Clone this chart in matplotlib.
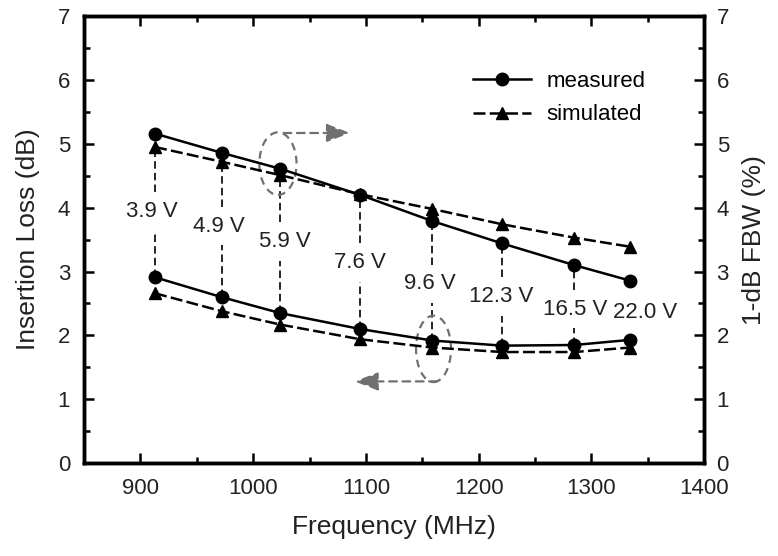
import matplotlib
matplotlib.use("Agg")
import matplotlib.pyplot as plt
from matplotlib.patches import Ellipse
from matplotlib.ticker import MultipleLocator

plt.rcParams["font.family"] = ["Liberation Sans", "DejaVu Sans"]

freq = [913, 972, 1024, 1095, 1159, 1221, 1285, 1334]
il_meas = [2.91, 2.60, 2.35, 2.10, 1.92, 1.84, 1.85, 1.93]
il_sim = [2.66, 2.38, 2.17, 1.94, 1.81, 1.74, 1.74, 1.81]
fbw_meas = [5.16, 4.86, 4.61, 4.20, 3.79, 3.44, 3.10, 2.86]
fbw_sim = [4.95, 4.72, 4.51, 4.21, 3.98, 3.74, 3.53, 3.39]
volt_labels = ["3.9 V", "4.9 V", "5.9 V", "7.6 V", "9.6 V", "12.3 V", "16.5 V", "22.0 V"]
label_x = [910, 970, 1028, 1095, 1157, 1220, 1286, 1348]
label_y = [3.94, 3.71, 3.47, 3.14, 2.81, 2.61, 2.41, 2.36]

fig = plt.figure(figsize=(7.78, 5.56), dpi=100)
ax = fig.add_axes([0.108, 0.167, 0.797, 0.804])
ax2 = ax.twinx()
txt = "#222222"

# vertical guide lines, broken around the voltage labels
gap = 0.3
for i in range(len(freq) - 1):
    top = min(fbw_meas[i], fbw_sim[i])
    for y0, y1 in [(label_y[i] + gap, top), (il_meas[i], label_y[i] - gap)]:
        ax.plot([freq[i], freq[i]], [y0, y1], color="black", lw=1.2,
                ls=(0, (4.5, 2.5)), zorder=1)
for x, y, t in zip(label_x, label_y, volt_labels):
    ax.text(x, y, t, ha="center", va="center", fontsize=16, color=txt, zorder=2)

dash = (0, (4.8, 1.7))
ax.plot(freq, il_meas, "-o", color="black", lw=1.8, ms=9, zorder=4, label="measured")
ax.plot(freq, il_sim, ls=dash, marker="^", color="black", lw=1.8, ms=9, zorder=4,
        label="simulated")
ax2.plot(freq, fbw_meas, "-o", color="black", lw=1.8, ms=9, zorder=4)
ax2.plot(freq, fbw_sim, ls=dash, marker="^", color="black", lw=1.8, ms=9, zorder=4)

# dashed ellipses with arrows pointing to the relevant axis
gray = "#707070"
gls = (0, (3.5, 2.5))
ax.add_patch(Ellipse((1022, 4.69), 33, 0.98, fill=False, ec=gray, lw=1.6,
                     ls=gls, zorder=3))
ax.annotate("", xy=(1086, 5.17), xytext=(1027, 5.17),
            arrowprops=dict(arrowstyle="-|>,head_length=0.9,head_width=0.35",
                            color=gray, lw=1.6, ls=gls, shrinkA=0, shrinkB=0,
                            mutation_scale=16), zorder=3)
ax.add_patch(Ellipse((1160, 1.79), 31, 1.04, fill=False, ec=gray, lw=1.6,
                     ls=gls, zorder=3))
ax.annotate("", xy=(1090, 1.28), xytext=(1163, 1.28),
            arrowprops=dict(arrowstyle="-|>,head_length=0.9,head_width=0.35",
                            color=gray, lw=1.6, ls=gls, shrinkA=0, shrinkB=0,
                            mutation_scale=16), zorder=3)

for a in (ax, ax2):
    a.set_ylim(0, 7)
    a.yaxis.set_major_locator(MultipleLocator(1))
    a.yaxis.set_minor_locator(MultipleLocator(0.5))
    a.tick_params(which="both", direction="in", labelsize=16, width=1.8,
                  colors="black", labelcolor=txt)
    a.tick_params(which="major", length=7)
    a.tick_params(which="minor", length=4)
    for s in a.spines.values():
        s.set_linewidth(2.5)
ax.set_xlim(850, 1400)
ax.xaxis.set_major_locator(MultipleLocator(100))
ax.xaxis.set_minor_locator(MultipleLocator(50))
ax.tick_params(axis="x", which="both", top=True, pad=11)
ax.tick_params(axis="y", pad=10)
ax2.tick_params(axis="y", pad=9)

ax.set_xlabel("Frequency (MHz)", fontsize=19, labelpad=11, color=txt)
ax.set_ylabel("Insertion Loss (dB)", fontsize=19, labelpad=13, color=txt)
ax2.set_ylabel("1-dB FBW (%)", fontsize=19, labelpad=9, color=txt)

ax.legend(loc="upper left", bbox_to_anchor=(0.627, 0.877), frameon=False,
          fontsize=16, handlelength=2.6, handletextpad=0.7, labelspacing=0.55,
          borderpad=0, borderaxespad=0)

fig.savefig("out.png", dpi=100)
